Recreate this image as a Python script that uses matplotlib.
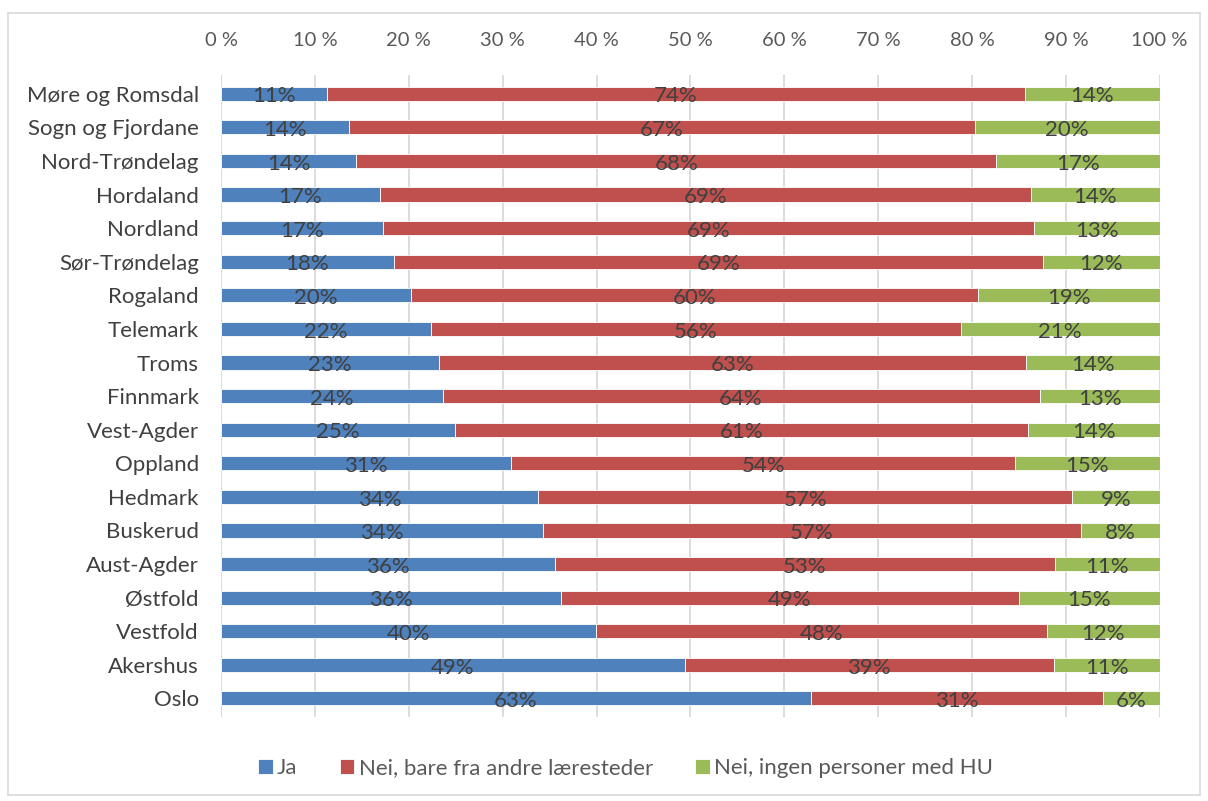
import matplotlib.pyplot as plt
from matplotlib.patches import Rectangle
import numpy as np

plt.rcParams['font.family'] = ['Lato', 'DejaVu Sans']

# Fylker (top to bottom)
fylker = ['Møre og Romsdal', 'Sogn og Fjordane', 'Nord-Trøndelag', 'Hordaland',
          'Nordland', 'Sør-Trøndelag', 'Rogaland', 'Telemark', 'Troms', 'Finnmark',
          'Vest-Agder', 'Oppland', 'Hedmark', 'Buskerud', 'Aust-Agder', 'Østfold',
          'Vestfold', 'Akershus', 'Oslo']

# Andeler i prosent
ja = [11.3, 13.6, 14.4, 16.9, 17.3, 18.4, 20.2, 22.4, 23.2, 23.6,
      24.9, 30.9, 33.8, 34.3, 35.6, 36.2, 39.9, 49.4, 62.8]
nei_andre = [74.3, 66.7, 68.2, 69.4, 69.3, 69.2, 60.4, 56.4, 62.6, 63.6,
             61.1, 53.7, 56.9, 57.3, 53.2, 48.8, 48.1, 39.3, 31.2]
nei_ingen = [14.4, 19.7, 17.4, 13.7, 13.4, 12.4, 19.4, 21.2, 14.2, 12.8,
             14.0, 15.4, 9.3, 8.4, 11.2, 15.0, 12.0, 11.3, 6.0]

serier = ['Ja', 'Nei, bare fra andre læresteder', 'Nei, ingen personer med HU']
farger = ['#4F81BD', '#C0504D', '#9BBB59']

fig = plt.figure(figsize=(12.08, 8.01), dpi=100)
ax = fig.add_axes([0.183, 0.105, 0.777, 0.801])

y = np.arange(len(fylker))
left = np.zeros(len(fylker))
for vals, navn, farge in zip([ja, nei_andre, nei_ingen], serier, farger):
    vals = np.array(vals)
    ax.barh(y, vals, left=left, height=0.42, color=farge, label=navn,
            edgecolor='white', linewidth=0.6, zorder=2)
    for yi, l, v in zip(y, left, vals):
        ax.text(l + v / 2, yi + 0.08, '%.0f%%' % v, ha='center', va='center',
                fontsize=16, color='#404040', zorder=3)
    left += vals

ax.set_xlim(0, 100)
ax.set_ylim(len(fylker) - 0.5 + 0.05, -0.5 - 0.05)
ax.set_yticks(y)
ax.set_yticklabels(fylker, fontsize=16, color='#404040')
ax.set_xticks(np.arange(0, 101, 10))
ax.set_xticklabels(['%d %%' % t for t in range(0, 101, 10)], fontsize=14.5, color='#595959')
ax.xaxis.tick_top()
ax.tick_params(axis='both', length=0)
ax.tick_params(axis='x', pad=19)
ax.tick_params(axis='y', pad=16)
ax.grid(axis='x', color='#D9D9D9', linewidth=1.3, zorder=0)
ax.set_axisbelow(True)
for s in ax.spines.values():
    s.set_visible(False)

fig.legend(loc='center', bbox_to_anchor=(0.518, 0.041), ncol=3, frameon=False,
           fontsize=16, handlelength=0.65, handleheight=0.65, handletextpad=0.2,
           columnspacing=1.9, labelcolor='#595959')

fig.patches.append(Rectangle((8 / 1208, 1 - 795 / 801), 1192 / 1208, 782 / 801,
                             transform=fig.transFigure, fill=False,
                             edgecolor='#D9D9D9', linewidth=1.2))

fig.savefig('out.png', dpi=100)
